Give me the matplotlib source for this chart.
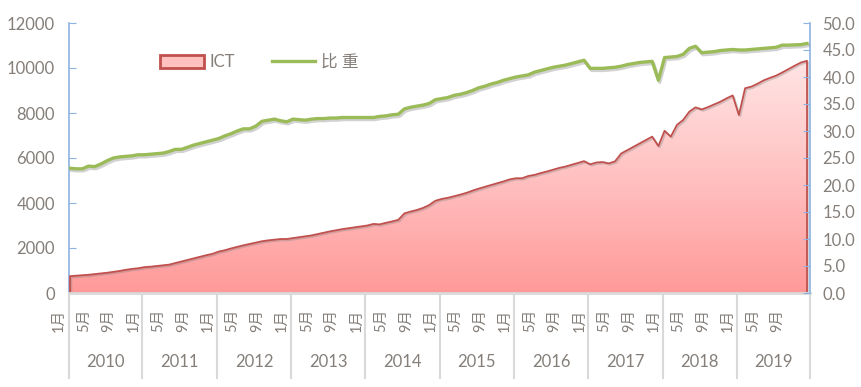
import matplotlib
matplotlib.use("Agg")
import matplotlib.pyplot as plt
import matplotlib.patheffects as pe
import numpy as np
from matplotlib.colors import LinearSegmentedColormap
from matplotlib.patches import PathPatch, Patch
from matplotlib.lines import Line2D
from matplotlib.transforms import ScaledTranslation

plt.rcParams['font.family'] = ['Lato', 'Noto Sans CJK SC', 'DejaVu Sans']

# anos e rótulos dos meses (um rótulo a cada 4 meses)
anos = ['2010', '2011', '2012', '2013', '2014', '2015', '2016', '2017', '2018', '2019']
rotulos_meses = ['1月', '5月', '9月']

# ICT mensal, jan/2010 a dez/2019 (eixo esquerdo)
ict = [
    750, 770, 790, 810, 840, 870, 900, 940, 980, 1030, 1070, 1100,
    1150, 1170, 1200, 1230, 1260, 1330, 1400, 1470, 1540, 1610, 1680, 1740,
    1840, 1900, 1980, 2050, 2120, 2180, 2240, 2300, 2340, 2370, 2400, 2400,
    2440, 2480, 2520, 2560, 2620, 2680, 2740, 2790, 2840, 2880, 2920, 2960,
    3000, 3070, 3050, 3120, 3180, 3250, 3540, 3620, 3690, 3780, 3910, 4100,
    4180, 4230, 4300, 4370, 4450, 4550, 4640, 4720, 4800, 4880, 4960, 5050,
    5100, 5100, 5200, 5250, 5330, 5400, 5480, 5560, 5620, 5700, 5780, 5860,
    5720, 5800, 5820, 5760, 5850, 6200, 6350, 6500, 6650, 6800, 6950, 6530,
    7210, 6950, 7470, 7690, 8060, 8250, 8160, 8260, 8380, 8500, 8650, 8780,
    7910, 9100, 9170, 9300, 9450, 9560, 9660, 9800, 9950, 10100, 10240, 10320,
]

# participação (%) - eixo direito
peso = [
    23.1, 23.0, 23.0, 23.5, 23.4, 23.9, 24.5, 25.0, 25.2, 25.3, 25.4, 25.6,
    25.6, 25.7, 25.8, 25.9, 26.2, 26.6, 26.6, 27.0, 27.4, 27.7, 28.0, 28.3,
    28.6, 29.1, 29.5, 30.0, 30.4, 30.4, 30.9, 31.8, 32.0, 32.2, 31.9, 31.7,
    32.2, 32.1, 32.0, 32.2, 32.3, 32.3, 32.4, 32.4, 32.5, 32.5, 32.5, 32.5,
    32.5, 32.5, 32.7, 32.8, 33.0, 33.1, 34.1, 34.4, 34.6, 34.8, 35.1, 35.8,
    36.0, 36.2, 36.6, 36.8, 37.1, 37.5, 38.0, 38.3, 38.7, 39.0, 39.4, 39.7,
    40.0, 40.2, 40.4, 40.9, 41.2, 41.5, 41.8, 42.0, 42.2, 42.5, 42.8, 43.1,
    41.6, 41.6, 41.6, 41.7, 41.8, 42.0, 42.3, 42.5, 42.7, 42.8, 42.9, 39.4,
    43.6, 43.7, 43.8, 44.2, 45.3, 45.7, 44.5, 44.6, 44.7, 44.9, 45.0, 45.1,
    45.0, 45.0, 45.1, 45.2, 45.3, 45.4, 45.5, 45.9, 45.9, 45.95, 46.0, 46.2,
]

cor_texto = '#857f7a'
cor_eixo = '#8db3e2'
x = np.arange(len(ict))
xmin, xmax = -0.16, 119.48

fig = plt.figure(figsize=(8.62, 3.87), dpi=100)
ax = fig.add_axes([69/862, 1-293/387, 741/862, 270/387])
ax2 = ax.twinx()

# área com gradiente recortado pelo polígono
xs = np.concatenate([[0], x, [x[-1]]])
ys = np.concatenate([[0], ict, [0]])
poly = ax.fill_between(x, ict, color='none', lw=0)
patch = PathPatch(poly.get_paths()[0], transform=ax.transData, facecolor='none', edgecolor='none')
ax.add_patch(patch)
cmap = LinearSegmentedColormap.from_list('rosa', ['#ff9999', '#ffc2c2', '#ffe6e6'])
grad = np.linspace(0, 1, 256).reshape(-1, 1)
im = ax.imshow(grad, extent=[xmin, xmax, 0, 10600], origin='lower', aspect='auto', cmap=cmap, zorder=1)
im.set_clip_path(patch)
ax.plot(xs, ys, color='#c0504d', lw=1.3, zorder=3,
        path_effects=[pe.SimpleLineShadow(offset=(1, -1), shadow_color='gray', alpha=0.35), pe.Normal()])

ax2.plot(x, peso, color='#9bbb59', lw=2.4, zorder=3,
         path_effects=[pe.SimpleLineShadow(offset=(1, -1.5), shadow_color='gray', alpha=0.35), pe.Normal()])

ax.set_xlim(xmin, xmax)
ax.set_ylim(0, 12000)
ax2.set_ylim(0, 50)
ax.set_yticks(np.arange(0, 12001, 2000))
ax2.set_yticks(np.arange(0, 50.1, 5))
ax2.set_yticklabels([f'{v:.1f}' for v in np.arange(0, 50.1, 5)])

for a in (ax, ax2):
    for s in ('top', 'left', 'right', 'bottom'):
        a.spines[s].set_visible(False)
ax.spines['left'].set_visible(True)
ax.spines['left'].set_color(cor_eixo)
ax.spines['left'].set_linewidth(1.2)
ax2.spines['right'].set_visible(True)
ax2.spines['right'].set_color(cor_eixo)
ax2.spines['right'].set_linewidth(1.2)
ax.spines['bottom'].set_visible(True)
ax.spines['bottom'].set_color('#d9d9d9')
ax.spines['bottom'].set_linewidth(2)
ax.spines['bottom'].set_zorder(5)

ax.tick_params(axis='y', direction='in', length=5, color=cor_eixo, labelcolor=cor_texto, labelsize=12, pad=10)
ax2.tick_params(axis='y', direction='in', length=5, color=cor_eixo, labelcolor=cor_texto, labelsize=12, pad=9)
ax.set_xticks([])

# rótulos de mês (rotacionados) e de ano, com separadores
desloc = ScaledTranslation(-11/100, 0, fig.dpi_scale_trans)
trans = ax.get_xaxis_transform()
for i in range(0, len(ict), 4):
    ax.text(i, -0.1, rotulos_meses[(i % 12) // 4], rotation=90, ha='center', va='center',
            fontsize=10.5, color=cor_texto, transform=trans + desloc, clip_on=False)

limites = [xmin] + [12*k - 0.3 for k in range(1, 10)] + [xmax]
for b in limites:
    ax.plot([b, b], [0, -0.315], color='#d9d9d9', lw=1.5, transform=trans, clip_on=False)
for k, ano in enumerate(anos):
    ax.text((limites[k] + limites[k+1]) / 2, -0.256, ano, ha='center', va='center',
            fontsize=12, color=cor_texto, transform=trans, clip_on=False)

# legenda
h1 = Patch(facecolor='#ffc0c0', edgecolor='#c0504d', lw=2)
h2 = Line2D([0], [0], color='#9bbb59', lw=2.4)
ax.legend([h1, h2], ['ICT', '比 重'], loc='center left', bbox_to_anchor=(0.103, 0.855),
          ncol=2, frameon=False, fontsize=12, handlelength=2.6, handleheight=0.8,
          handletextpad=0.35, columnspacing=2.2, labelcolor=cor_texto)

fig.savefig('out.png', dpi=100)
